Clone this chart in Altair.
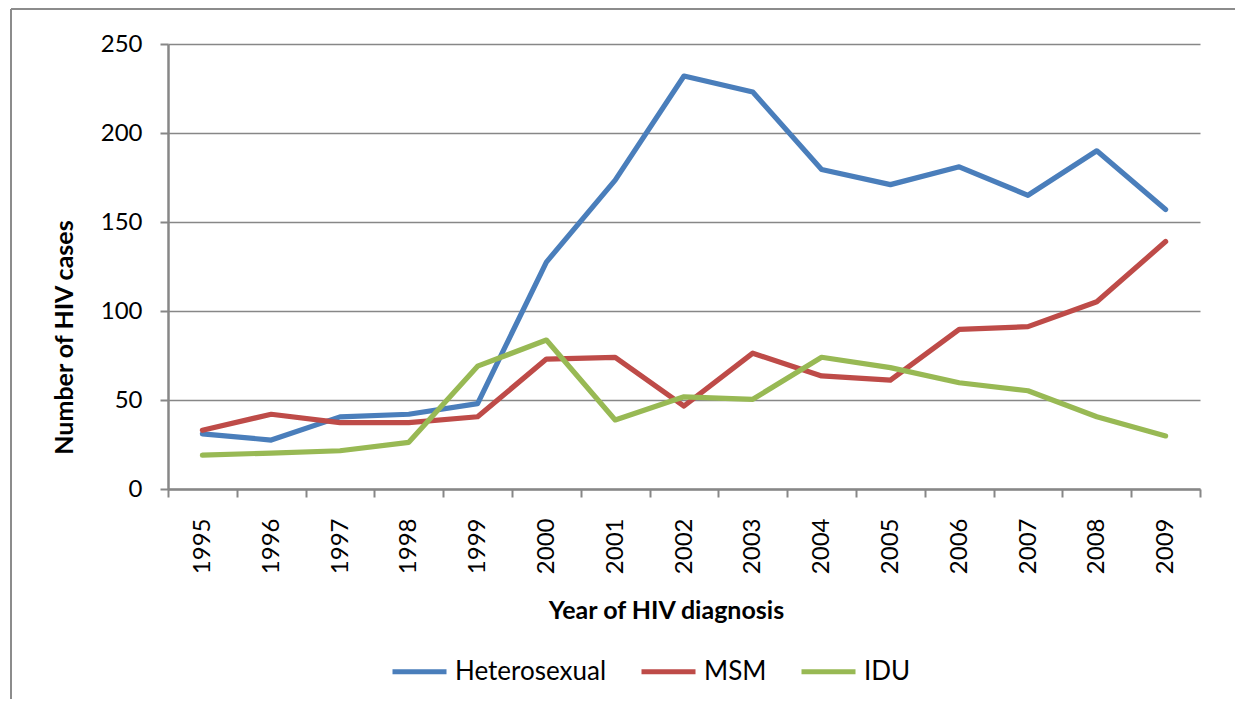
import altair as alt
import pandas as pd

years = [1995, 1996, 1997, 1998, 1999, 2000, 2001, 2002, 2003, 2004, 2005, 2006, 2007, 2008, 2009]
heterosexual = [31, 27.5, 40.5, 42, 48, 127.5, 173.5, 232, 223, 179.5, 171, 181, 165, 190, 157]
msm = [33, 42, 37.3, 37.3, 40.6, 73, 74, 46.6, 76.3, 63.5, 61.2, 89.7, 91.2, 105.2, 139]
idu = [19, 20.2, 21.5, 26.2, 69, 83.7, 38.8, 51.8, 50.4, 74, 68.2, 59.7, 55.2, 40.6, 29.8]

series_names = ["Heterosexual", "MSM", "IDU"]
series_colors = ["#4A7EBB", "#BE4B48", "#98B954"]

rows = []
for name, vals in zip(series_names, [heterosexual, msm, idu]):
    for yr, v in zip(years, vals):
        rows.append({"year": yr, "cases": v, "group": name})
df = pd.DataFrame(rows)

FONT = "Lato"
GREY = "#878787"

lines = alt.Chart(df).mark_line(strokeWidth=5.2, strokeCap="round", strokeJoin="round").encode(
    x=alt.X(
        "year:O",
        bandPosition=0.5,
        scale=alt.Scale(type="band", paddingInner=0, paddingOuter=0),
        axis=alt.Axis(
            title="Year of HIV diagnosis",
            tickBand="extent",
            labelAngle=-90,
            labelFontSize=24,
            labelPadding=21,
            tickSize=8,
            tickColor=GREY,
            tickWidth=2,
            domainColor=GREY,
            domainWidth=2.5,
            grid=False,
            titleFontSize=25,
            titleFontWeight="bold",
            titleX=498,
            titleY=121,
            titleBaseline="middle",
            titleAlign="center",
        ),
    ),
    y=alt.Y(
        "cases:Q",
        scale=alt.Scale(domain=[0, 250], nice=False),
        axis=alt.Axis(
            title="Number of HIV cases",
            values=[0, 50, 100, 150, 200, 250],
            labelFontSize=24,
            labelPadding=18,
            tickSize=8,
            tickColor=GREY,
            tickWidth=2,
            domainColor=GREY,
            domainWidth=2.5,
            grid=True,
            gridColor=GREY,
            gridWidth=1.6,
            titleFontSize=25,
            titleFontWeight="bold",
            titleAngle=-90,
            titleX=-104,
            titleY=293,
            titleBaseline="middle",
            titleAlign="center",
        ),
    ),
    color=alt.Color(
        "group:N",
        scale=alt.Scale(domain=series_names, range=series_colors),
        legend=alt.Legend(
            title=None,
            orient="none",
            direction="horizontal",
            legendX=222,
            legendY=598,
            symbolType="stroke",
            symbolSize=2916,
            symbolStrokeWidth=5,
            labelFontSize=26,
            labelOffset=6,
            columnPadding=24,
            labelLimit=400,
        ),
    ),
)

frame = alt.Chart(alt.Data(values=[{"k": 1}])).mark_rule(color="#8c8c8c", strokeWidth=2)
frame_left = frame.encode(x=alt.value(-157), y=alt.value(-35), y2=alt.value(700))
frame_top = frame.encode(x=alt.value(-157), x2=alt.value(1300), y=alt.value(-35))

chart = alt.layer(frame_left, frame_top, lines).properties(
    width=1032,
    height=445,
    autosize=alt.AutoSizeParams(type="none"),
    padding={"left": 160, "top": 36, "right": 35, "bottom": 210},
).configure(font=FONT).configure_view(stroke=None).configure_axis(
    labelColor="#000000", titleColor="#000000", labelFont=FONT, titleFont=FONT
).configure_legend(labelFont=FONT, labelColor="#000000")

chart.save("out.html", embed_options={"renderer": "svg", "actions": False})
